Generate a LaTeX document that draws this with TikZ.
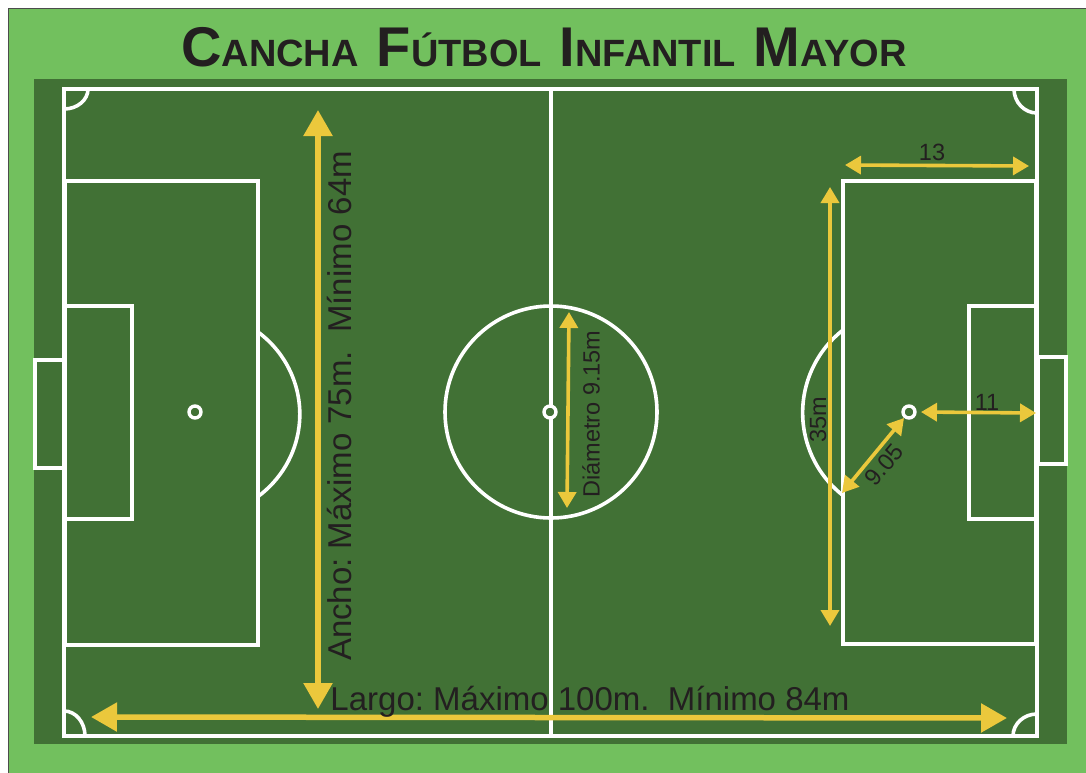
\documentclass[tikz,border=0pt]{standalone}
\usepackage{fontspec}
\setmainfont{Liberation Sans}
\usetikzlibrary{arrows.meta}

\definecolor{grasslight}{HTML}{72C05E}
\definecolor{grassdark}{HTML}{417135}
\definecolor{measure}{HTML}{EBC83C}
\definecolor{inktext}{HTML}{231F20}

\newcommand{\tbig}[1]{{\fontsize{56}{56}\selectfont #1}}
\newcommand{\tsmall}[1]{{\fontsize{38}{38}\selectfont #1}}
\newcommand{\tgap}{\hspace{18pt}}

\tikzset{
  fieldline/.style={draw=white,line width=3.6pt},
  spot/.style={circle,draw=white,fill=grassdark,line width=3.4pt,minimum size=12pt,inner sep=0pt},
  bigarrow/.style={color=measure,line width=5.5pt,{Triangle[length=26pt,width=28pt,fill=measure]}-{Triangle[length=26pt,width=28pt,fill=measure]}},
  smallarrow/.style={color=measure,line width=3.6pt,{Triangle[length=16pt,width=18pt,fill=measure]}-{Triangle[length=16pt,width=18pt,fill=measure]}},
  biglabel/.style={text=inktext,font=\fontsize{33}{33}\selectfont\frenchspacing,inner sep=0pt},
  smalllabel/.style={text=inktext,font=\fontsize{23.5}{23.5}\selectfont\frenchspacing,inner sep=0pt},
}

\begin{document}
\begin{tikzpicture}[x=1pt,y=1pt]
   \useasboundingbox (0,0) rectangle (1086,-772);
   % ground
   \draw[draw=black!70,line width=1pt,fill=grasslight] (8.5,-8.5) rectangle (1090,-780);
   \fill[grassdark] (34,-79) rectangle (1067,-744);
   \node[text=inktext,font=\bfseries,inner sep=0pt] (title) at (544,-47)
     {\tbig{C}\tsmall{ANCHA}\tgap\tbig{F}\tsmall{ÚTBOL}\tgap\tbig{I}\tsmall{NFANTIL}\tgap\tbig{M}\tsmall{AYOR}};

   % field lines
   \draw[fieldline] (64,-89) rectangle (1037,-736);
   \draw[fieldline] (551,-89) -- (551,-736);
   \draw[fieldline] (551,-412) circle[radius=106];
   \draw[fieldline] (64,-89) ++(24,0) arc[start angle=0,end angle=-90,x radius=24,y radius=20];
   \draw[fieldline] (1037,-89) ++(-23,0) arc[start angle=180,end angle=270,x radius=23,y radius=24];
   \draw[fieldline] (64,-736) ++(0,25) arc[start angle=90,end angle=0,x radius=21,y radius=25];
   \draw[fieldline] (1037,-736) ++(-24,0) arc[start angle=180,end angle=90,x radius=24,y radius=22];

   % left side
   \draw[fieldline] (65,-181) rectangle (258,-645);
   \draw[fieldline] (65,-306) rectangle (132,-519);
   \draw[fieldline] (64,-360) rectangle (35,-468);
   \draw[fieldline] (258,-332) arc[start angle=53,end angle=-53,x radius=105,y radius=103];

   % right side
   \draw[fieldline] (843,-181) rectangle (1036,-644);
   \draw[fieldline] (969,-306) rectangle (1036,-519);
   \draw[fieldline] (1038,-357) rectangle (1066,-464);
   \draw[fieldline] (843,-330) arc[start angle=128,end angle=232,radius=105];

   % spots
   \node[spot] (spotL) at (195,-412) {};
   \node[spot] (spotC) at (550,-412) {};
   \node[spot] (spotR) at (909,-412) {};

   % measure ends
   \coordinate (anchoT) at (318,-110);
   \coordinate (anchoB) at (318,-709);
   \coordinate (largoL) at (91,-717);
   \coordinate (largoR) at (1007,-718);
   \coordinate (diamT) at (569,-312);
   \coordinate (diamB) at (567,-508);
   \coordinate (areaL) at (845,-165);
   \coordinate (areaR) at (1029,-166);
   \coordinate (penT) at (830,-187);
   \coordinate (penB) at (830,-626);
   \coordinate (spotE) at (921,-412);
   \coordinate (lineE) at (1036,-413);
   \coordinate (arcE) at (842,-493);
   \coordinate (spotW) at (904,-418);

   \draw[bigarrow] (anchoT) -- (anchoB);
   \draw[bigarrow] (largoL) -- (largoR);
   \draw[smallarrow] (diamT) -- (diamB);
   \draw[smallarrow] (areaL) -- (areaR);
   \draw[smallarrow] (penT) -- (penB);
   \draw[smallarrow] (spotE) -- (lineE);
   \draw[smallarrow] (arcE) -- (spotW);

   % labels
   \node[biglabel,rotate=90] (anchoText) at (340,-406) {Ancho: Máximo 75m.\ \ Mínimo 64m};
   \node[biglabel] (largoText) at (590,-702) {Largo: Máximo 100m.\ \ Mínimo 84m};
   \node[smalllabel,rotate=90] (diamText) at (591,-414) {Diámetro 9.15m};
   \node[smalllabel] (areaText) at (932,-152) {13};
   \node[smalllabel] (spotText) at (987,-402) {11};
   \node[smalllabel,rotate=90] (penText) at (818,-420) {35m};
   \node[smalllabel,rotate=50] (arcText) at (884,-465) {9.05};
\end{tikzpicture}
\end{document}
